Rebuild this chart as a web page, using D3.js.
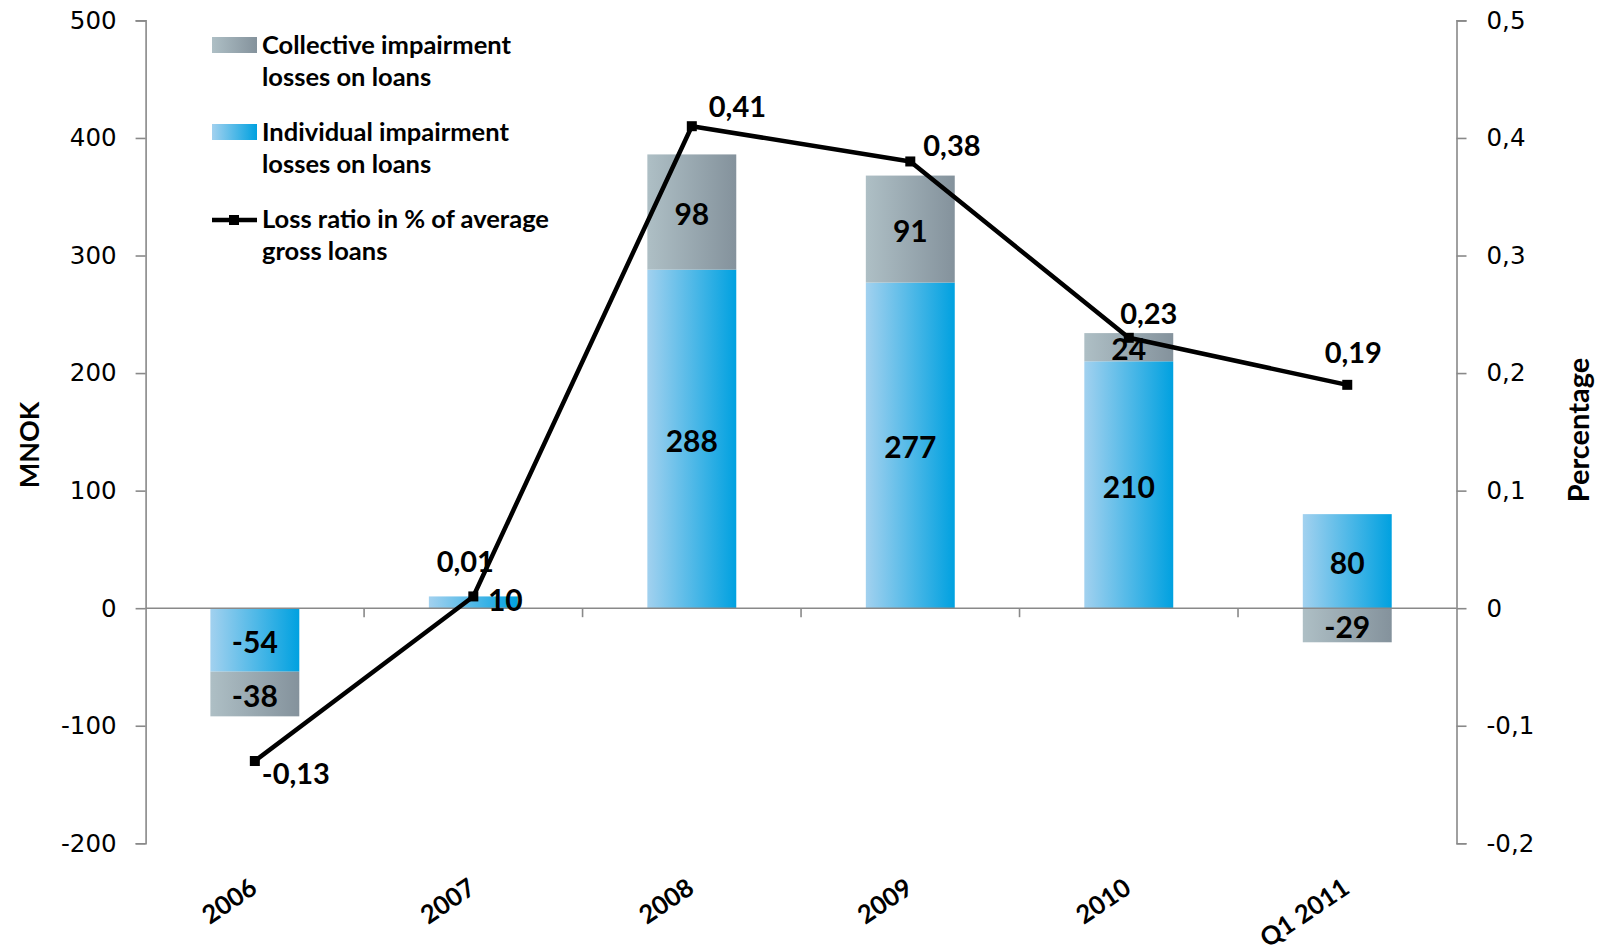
<!DOCTYPE html>
<html>
<head>
<meta charset="utf-8">
<script src="https://cdn.jsdelivr.net/npm/d3@7"></script>
<style>
  body { margin: 0; background: #fff; }
  svg { display: block; }
  .lbl { font-family: Lato, "Open Sans", sans-serif; font-weight: 700; fill: #000; }
  .tick text { font-family: "DejaVu Sans", sans-serif; font-size: 24.5px; fill: #000; }
  .axis path, .axis line { stroke: #898989; stroke-width: 1.6; }
</style>
</head>
<body>
<svg width="1597" height="952"></svg>
<script>
var categories = ["2006", "2007", "2008", "2009", "2010", "Q1 2011"];
var individual = [-54, 10, 288, 277, 210, 80];
var collective = [-38, 0, 98, 91, 24, -29];
var lossRatio = [-0.13, 0.01, 0.41, 0.38, 0.23, 0.19];
var leftTicks = [-200, -100, 0, 100, 200, 300, 400, 500];
var rightTicks = [-0.2, -0.1, 0, 0.1, 0.2, 0.3, 0.4, 0.5];

var svg = d3.select("svg");
var defs = svg.append("defs");

function grad(id, c1, c2) {
  var g = defs.append("linearGradient").attr("id", id)
    .attr("x1", "0%").attr("x2", "100%").attr("y1", "0%").attr("y2", "0%");
  g.append("stop").attr("offset", "0%").attr("stop-color", c1);
  g.append("stop").attr("offset", "100%").attr("stop-color", c2);
}
grad("gInd", "#a2d1ef", "#00a1e0");
grad("gCol", "#aebfc5", "#84929c");

var plotLeft = 145.6, plotRight = 1456.5, plotTop = 20.4, plotBottom = 843.3;

var x = d3.scaleBand()
  .domain(categories)
  .range([plotLeft, plotRight])
  .paddingInner(0.593)
  .paddingOuter(0.2965);

var yL = d3.scaleLinear().domain([-200, 500]).range([plotBottom, plotTop]);
var yR = d3.scaleLinear().domain([-0.2, 0.5]).range([plotBottom, plotTop]);

var rows = categories.map(function(c, i) {
  return { cat: c, individual: individual[i], collective: collective[i] };
});

var stack = d3.stack()
  .keys(["individual", "collective"])
  .offset(d3.stackOffsetDiverging);
var series = stack(rows);
var fills = { individual: "url(#gInd)", collective: "url(#gCol)" };

// bars
series.forEach(function(s) {
  svg.append("g").selectAll("rect")
    .data(s).enter()
    .append("rect")
    .attr("x", function(d) { return x(d.data.cat); })
    .attr("width", x.bandwidth())
    .attr("y", function(d) { return yL(Math.max(d[0], d[1])); })
    .attr("height", function(d) { return Math.abs(yL(d[0]) - yL(d[1])); })
    .attr("fill", fills[s.key]);
});

// axes
var axisL = d3.axisLeft(yL).tickValues(leftTicks).tickSize(10).tickPadding(19)
  .tickFormat(function(d) { return String(d); });
svg.append("g").attr("class", "axis")
  .attr("transform", "translate(" + plotLeft + ",0)")
  .call(axisL);

var axisR = d3.axisRight(yR).tickValues(rightTicks).tickSize(10).tickPadding(20)
  .tickFormat(function(d) { return String(+d.toFixed(1)).replace(".", ","); });
svg.append("g").attr("class", "axis")
  .attr("transform", "translate(" + plotRight + ",0)")
  .call(axisR);

// zero line with category separators
var zero = yL(0);
svg.append("line")
  .attr("x1", plotLeft).attr("x2", plotRight).attr("y1", zero).attr("y2", zero)
  .attr("stroke", "#898989").attr("stroke-width", 1.6);
svg.append("g").selectAll("line")
  .data(categories.slice(1)).enter()
  .append("line")
  .attr("x1", function(d) { return x(d) - (x.step() - x.bandwidth()) / 2; })
  .attr("x2", function(d) { return x(d) - (x.step() - x.bandwidth()) / 2; })
  .attr("y1", zero).attr("y2", zero + 9)
  .attr("stroke", "#898989").attr("stroke-width", 1.6);

// bar labels
var barLabelShift = { "2007": [32, -4] };
series.forEach(function(s) {
  svg.append("g").selectAll("text")
    .data(s.filter(function(d) { return d.data[s.key] !== 0; })).enter()
    .append("text")
    .attr("class", "lbl")
    .attr("font-size", 30)
    .attr("text-anchor", "middle")
    .attr("dominant-baseline", "central")
    .attr("x", function(d) {
      var sh = barLabelShift[d.data.cat] || [0, 0];
      return x(d.data.cat) + x.bandwidth() / 2 + sh[0];
    })
    .attr("y", function(d) {
      var sh = barLabelShift[d.data.cat] || [0, 0];
      return yL((d[0] + d[1]) / 2) + 1 + sh[1];
    })
    .text(function(d) { return String(d.data[s.key]); });
});

// loss ratio line
var pts = categories.map(function(c, i) {
  return [x(c) + x.bandwidth() / 2, yR(lossRatio[i])];
});
svg.append("path")
  .attr("d", d3.line()(pts))
  .attr("fill", "none")
  .attr("stroke", "#000")
  .attr("stroke-width", 4.5)
  .attr("stroke-linejoin", "round");
svg.append("g").selectAll("rect")
  .data(pts).enter()
  .append("rect")
  .attr("x", function(d) { return d[0] - 5; })
  .attr("y", function(d) { return d[1] - 5; })
  .attr("width", 10).attr("height", 10)
  .attr("fill", "#000");

var lineLabelPos = [[7, 23, "start"], [-8, -24, "middle"], [17, -9, "start"],
                    [13, -5, "start"], [20, -14, "middle"], [6, -22, "middle"]];
svg.append("g").selectAll("text")
  .data(pts).enter()
  .append("text")
  .attr("class", "lbl")
  .attr("font-size", 29)
  .attr("x", function(d, i) { return d[0] + lineLabelPos[i][0]; })
  .attr("y", function(d, i) { return d[1] + lineLabelPos[i][1]; })
  .attr("text-anchor", function(d, i) { return lineLabelPos[i][2]; })
  .text(function(d, i) { return lossRatio[i].toFixed(2).replace(".", ","); });

// category labels
svg.append("g").selectAll("text")
  .data(categories).enter()
  .append("text")
  .attr("class", "lbl")
  .attr("font-size", 25.5)
  .attr("text-anchor", "end")
  .attr("transform", function(d) {
    return "translate(" + (x(d) + x.bandwidth() / 2 + 4) + ",892) rotate(-34)";
  })
  .text(function(d) { return d; });

// axis titles
svg.append("text").attr("class", "lbl").attr("font-size", 27)
  .attr("text-anchor", "middle").attr("dominant-baseline", "central")
  .attr("transform", "translate(28,445) rotate(-90)")
  .text("MNOK");
svg.append("text").attr("class", "lbl").attr("font-size", 29)
  .attr("text-anchor", "middle").attr("dominant-baseline", "central")
  .attr("transform", "translate(1577,430) rotate(-90)")
  .text("Percentage");

// legend
var legend = svg.append("g").attr("class", "lbl").attr("font-size", 25.5);
var legendItems = [
  { lines: ["Collective impairment", "losses on loans"], fill: "url(#gCol)", y: 37 },
  { lines: ["Individual impairment", "losses on loans"], fill: "url(#gInd)", y: 124 },
  { lines: ["Loss ratio in % of average", "gross loans"], fill: null, y: 211 }
];
legendItems.forEach(function(it) {
  if (it.fill) {
    legend.append("rect").attr("x", 212).attr("y", it.y)
      .attr("width", 45).attr("height", 16).attr("fill", it.fill);
  } else {
    legend.append("line").attr("x1", 212).attr("x2", 257)
      .attr("y1", it.y + 9).attr("y2", it.y + 9)
      .attr("stroke", "#000").attr("stroke-width", 4.5);
    legend.append("rect").attr("x", 229).attr("y", it.y + 4)
      .attr("width", 10).attr("height", 10).attr("fill", "#000");
  }
  it.lines.forEach(function(t, j) {
    legend.append("text").attr("x", 262).attr("y", it.y + 17 + j * 32).text(t);
  });
});
</script>
</body>
</html>
